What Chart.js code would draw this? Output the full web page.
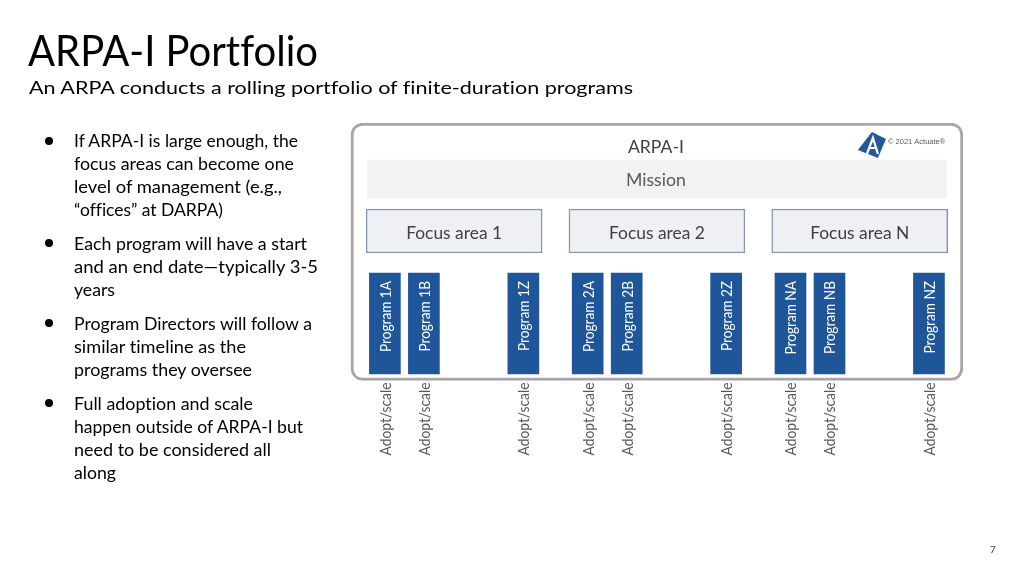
<!DOCTYPE html>
<html>
<head>
<meta charset="utf-8">
<title>ARPA-I Portfolio</title>
<script src="https://cdn.jsdelivr.net/npm/chart.js@4.4.0/dist/chart.umd.min.js"></script>
<style>
  html, body { margin: 0; padding: 0; background: #fff; }
  body { width: 1024px; height: 576px; position: relative; overflow: hidden; font-family: Lato, "Noto Sans", sans-serif; color: #000; font-variant-ligatures: none; }
  #diagram { position: absolute; left: 0; top: 0; }
  .t { position: absolute; white-space: nowrap; transform-origin: 0 0; }
  .title { left: 28px; top: 28.5px; font-size: 42px; line-height: 42px; }
  .sub { left: 29px; top: 77.5px; font-size: 17.5px; line-height: 20px; }
  .ln { left: 74px; font-size: 16.5px; line-height: 20px; }
  .dot { position: absolute; left: 45px; width: 8px; height: 8px; border-radius: 50%; background: #000; }
  .page { left: 990px; top: 542px; font-size: 10px; line-height: 14px; color: #404040; }
</style>
</head>
<body>
<canvas id="diagram" width="1024" height="576"></canvas>

<div class="t title" data-w="290">ARPA-I Portfolio</div>
<div class="t sub" data-w="604">An ARPA conducts a rolling portfolio of finite-duration programs</div>

<div class="dot" style="top:137px"></div>
<div class="t ln" style="top:131.3px" data-w="224">If ARPA-I is large enough, the</div>
<div class="t ln" style="top:154.3px" data-w="220">focus areas can become one</div>
<div class="t ln" style="top:177.3px" data-w="208">level of management (e.g.,</div>
<div class="t ln" style="top:200.3px" data-w="149">“offices” at DARPA)</div>

<div class="dot" style="top:239px"></div>
<div class="t ln" style="top:233.5px" data-w="233">Each program will have a start</div>
<div class="t ln" style="top:256.5px" data-w="244">and an end date—typically 3-5</div>
<div class="t ln" style="top:279.5px" data-w="41">years</div>

<div class="dot" style="top:319px"></div>
<div class="t ln" style="top:313.5px" data-w="238">Program Directors will follow a</div>
<div class="t ln" style="top:336.5px" data-w="172">similar timeline as the</div>
<div class="t ln" style="top:359.5px" data-w="178">programs they oversee</div>

<div class="dot" style="top:399px"></div>
<div class="t ln" style="top:393.5px" data-w="179">Full adoption and scale</div>
<div class="t ln" style="top:416.5px" data-w="229">happen outside of ARPA-I but</div>
<div class="t ln" style="top:439.5px" data-w="197">need to be considered all</div>
<div class="t ln" style="top:462.5px" data-w="42">along</div>

<div class="t page">7</div>

<script>
// programs, grouped under focus areas; position = slot along the portfolio
const programs = ['Program 1A', 'Program 1B', 'Program 1Z',
                  'Program 2A', 'Program 2B', 'Program 2Z',
                  'Program NA', 'Program NB', 'Program NZ'];
const programPos = [0, 1, 3.55, 5.2, 6.2, 8.75, 10.4, 11.4, 13.95];
const focusAreas = ['Focus area 1', 'Focus area 2', 'Focus area N'];
const focusFirst = [0, 3, 6];   // first program of each focus area
const focusLast = [2, 5, 8];    // last program of each focus area
const orgName = 'ARPA-I';
const missionLabel = 'Mission';
const adoptLabel = 'Adopt/scale';
const logoText = '© 2021 Actuate®';

// layout (pixels of the slide)
const slotPx = 39, firstSlotPx = 384.9;
const rows = { box: [123, 380.5], mission: [160, 198], focus: [209, 253], program: [273, 374] };

// fit each html text line to the width it has on the slide
document.querySelectorAll('[data-w]').forEach(el => {
  const w = el.getBoundingClientRect().width;
  el.style.transform = 'scaleX(' + (+el.dataset.w / w) + ')';
});

const mid = (programPos[0] + programPos[programPos.length - 1]) / 2;
const focusCenters = focusFirst.map((f, i) => (programPos[f] + programPos[focusLast[i]]) / 2);

function label(ctx, text, x, y, o) {
  ctx.save();
  ctx.translate(x, y);
  if (o.rotate) ctx.rotate(-Math.PI / 2);
  ctx.font = (o.weight || '') + ' ' + o.size + 'px ' + (o.family || 'Lato');
  ctx.fillStyle = o.color;
  ctx.textAlign = o.align || 'center';
  ctx.textBaseline = 'middle';
  ctx.scale(o.squeeze || 1, 1);
  ctx.fillText(text, 0, 0);
  ctx.restore();
}

function squeezeFor(ctx, text, size, width) {
  ctx.font = size + 'px Lato';
  return width / ctx.measureText(text).width;
}

const labelsPlugin = {
  id: 'diagramLabels',
  afterDatasetsDraw(chart) {
    const ctx = chart.ctx;
    const box = chart.getDatasetMeta(0).data[0];
    const mission = chart.getDatasetMeta(1).data[0];
    const focus = chart.getDatasetMeta(2).data;
    const progs = chart.getDatasetMeta(3).data;
    const top = el => Math.min(el.y, el.base);
    const bottom = el => Math.max(el.y, el.base);

    label(ctx, orgName, box.x - 1, top(box) + 24, { size: 18, color: '#404040', squeeze: squeezeFor(ctx, orgName, 18, 56) });
    label(ctx, missionLabel, mission.x - 1, (top(mission) + bottom(mission)) / 2 + 2, { size: 17, color: '#595959', squeeze: squeezeFor(ctx, missionLabel, 17, 60) });

    const fs = squeezeFor(ctx, focusAreas[0], 16.5, 96);
    focus.forEach((el, i) => {
      label(ctx, focusAreas[i], el.x, (top(el) + bottom(el)) / 2 + 2.5, { size: 16.5, color: '#404040', squeeze: fs });
    });

    const ps = squeezeFor(ctx, programs[0], 15, 71);
    const as = squeezeFor(ctx, adoptLabel, 15, 73);
    progs.forEach((el, i) => {
      label(ctx, programs[i], el.x + 1, top(el) + 8, { size: 15, color: '#ffffff', rotate: true, align: 'right', squeeze: ps });
      label(ctx, adoptLabel, el.x + 1, rows.box[1] + 2, { size: 15, color: '#595959', rotate: true, align: 'right', squeeze: as });
    });

    // Actuate logo in the top-right corner of the box
    const lx = box.x + box.width / 2 - 105, ly = top(box) + 7;
    ctx.save();
    ctx.fillStyle = '#24589c';
    ctx.beginPath();
    ctx.moveTo(lx, ly + 20);
    ctx.lineTo(lx + 14, ly + 2);
    ctx.lineTo(lx + 28, ly + 9);
    ctx.lineTo(lx + 20, ly + 28);
    ctx.closePath();
    ctx.fill();
    ctx.strokeStyle = '#ffffff';
    ctx.lineWidth = 2.2;
    ctx.beginPath();
    ctx.moveTo(lx + 9, ly + 24);
    ctx.lineTo(lx + 15, ly + 8);
    ctx.lineTo(lx + 20, ly + 24);
    ctx.moveTo(lx + 12, ly + 18);
    ctx.lineTo(lx + 18, ly + 18);
    ctx.stroke();
    ctx.restore();
    label(ctx, logoText, lx + 30, ly + 12, { size: 7.5, color: '#595959', align: 'left', family: '"Liberation Sans", Arial' });
  }
};

new Chart(document.getElementById('diagram'), {
  type: 'bar',
  data: {
    datasets: [
      {
        label: orgName,
        data: [{ x: mid, y: rows.box }],
        backgroundColor: '#ffffff',
        borderColor: '#a6a6a6',
        borderWidth: 3,
        borderRadius: 12,
        borderSkipped: false,
        barThickness: 612,
        order: 4
      },
      {
        label: missionLabel,
        data: [{ x: mid, y: rows.mission }],
        backgroundColor: '#f2f2f2',
        barThickness: 579,
        order: 3
      },
      {
        label: 'Focus areas',
        data: focusCenters.map(x => ({ x, y: rows.focus })),
        backgroundColor: '#eef0f4',
        borderColor: '#8597b3',
        borderWidth: 1.5,
        borderSkipped: false,
        barThickness: 176,
        order: 2
      },
      {
        label: 'Programs',
        data: programPos.map(x => ({ x, y: rows.program })),
        backgroundColor: '#1f5699',
        barThickness: 31,
        order: 1
      }
    ]
  },
  options: {
    responsive: false,
    animation: false,
    events: [],
    layout: { padding: 0 },
    datasets: { bar: { grouped: false } },
    plugins: { legend: { display: false }, tooltip: { enabled: false } },
    scales: {
      x: { type: 'linear', display: false, offset: false, min: -firstSlotPx / slotPx, max: (1024 - firstSlotPx) / slotPx },
      y: { type: 'linear', display: false, reverse: true, min: 0, max: 576 }
    }
  },
  plugins: [labelsPlugin]
});
</script>
</body>
</html>
